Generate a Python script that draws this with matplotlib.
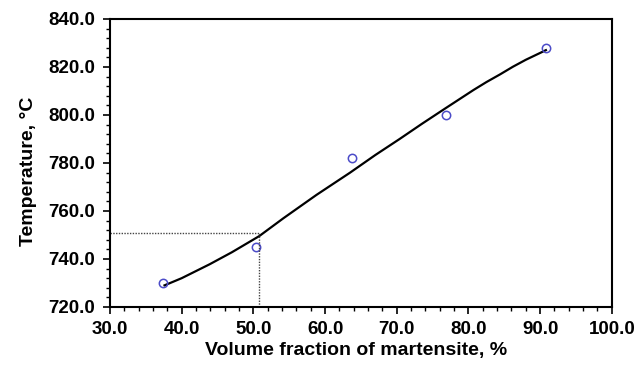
import matplotlib.pyplot as plt
from matplotlib.ticker import MultipleLocator, FormatStrFormatter

plt.rcParams['font.family'] = ['Liberation Sans', 'DejaVu Sans']

# measured points
vf_points = [37.4, 50.3, 63.7, 76.8, 90.8]
temp_points = [730.0, 745.0, 782.0, 800.0, 828.0]

# fitted curve
vf_curve = [37.6, 40.0, 43.9, 47.0, 50.8, 54.2, 58.8, 63.5, 67.0, 70.4,
            73.5, 76.8, 80.7, 82.5, 84.4, 86.2, 88.0, 90.8]
temp_curve = [729.0, 732.0, 737.8, 742.8, 749.5, 757.0, 766.7, 776.0, 783.3, 790.0,
              796.3, 802.8, 810.4, 813.7, 816.9, 820.1, 823.0, 827.0]

# read-off guide
vf_read = 50.8
temp_read = 750.7

fig = plt.figure(figsize=(6.36, 3.65), dpi=100)
ax = fig.add_axes([0.173, 0.159, 0.789, 0.789])

ax.plot(vf_curve, temp_curve, color='black', lw=1.6)
ax.plot(vf_points, temp_points, 'o', mfc='none', mec='#4b4bc8', mew=1.1, ms=6)
ax.plot([30, vf_read], [temp_read, temp_read], color='#444444', lw=1, ls=(0, (1, 1)))
ax.plot([vf_read, vf_read], [720, temp_read], color='#444444', lw=1, ls=(0, (1, 1)))

ax.set_xlim(30, 100)
ax.set_ylim(720, 840)
ax.xaxis.set_major_locator(MultipleLocator(10))
ax.xaxis.set_minor_locator(MultipleLocator(2))
ax.yaxis.set_major_locator(MultipleLocator(20))
ax.yaxis.set_minor_locator(MultipleLocator(4))
ax.xaxis.set_major_formatter(FormatStrFormatter('%.1f'))
ax.yaxis.set_major_formatter(FormatStrFormatter('%.1f'))
ax.tick_params(which='major', length=5, width=1.2, labelsize=13.5)
ax.tick_params(axis='x', which='major', pad=5)
ax.tick_params(axis='y', which='major', pad=5.5)
ax.tick_params(which='minor', length=3, width=1)
for lab in ax.get_xticklabels() + ax.get_yticklabels():
    lab.set_fontweight('bold')
for s in ax.spines.values():
    s.set_linewidth(1.5)

ax.set_xlabel('Volume fraction of martensite, %', fontsize=14, fontweight='bold', labelpad=3)
ax.set_ylabel('Temperature, °C', fontsize=14, fontweight='bold', labelpad=8)
ax.xaxis.label.set_x(0.49)
ax.yaxis.label.set_y(0.47)

fig.savefig('out.png', dpi=100)
